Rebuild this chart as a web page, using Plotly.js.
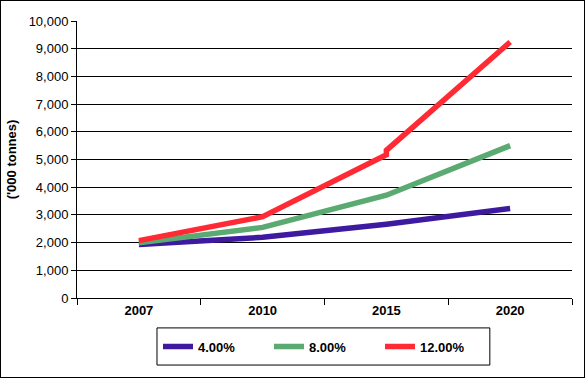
<!DOCTYPE html>
<html>
<head>
<meta charset="utf-8">
<script src="https://cdn.plot.ly/plotly-3.0.1.min.js"></script>
<style>
html,body{margin:0;padding:0;background:#fff;}
#chart{width:583px;height:376px;border:1px solid #000;}
</style>
</head>
<body>
<div id="chart"></div>
<script>
const years = ['2007', '2010', '2015', '2020'];
const seriesNames = ['4.00%', '8.00%', '12.00%'];
const growth4 = [1930, 2190, 2660, 3230];
const growth8 = [1990, 2550, 3710, 5500];
// the 12% line shows a small step at 2015 in the original
const years12 = ['2007', '2010', '2015', '2015', '2020'];
const growth12 = [2070, 2935, 5170, 5330, 9240];
const colors = ['#3d1aa0', '#5aaa72', '#ff2a33'];

const font = 'Arial, "Liberation Sans", sans-serif';
const traces = [
  {x: years, y: growth4, name: seriesNames[0]},
  {x: years, y: growth8, name: seriesNames[1]},
  {x: years12, y: growth12, name: seriesNames[2]}
].map((t, i) => Object.assign(t, {
  type: 'scatter', mode: 'lines',
  line: {color: colors[i], width: 5.5},
  hoverinfo: 'skip'
}));

const layout = {
  width: 583, height: 376,
  margin: {l: 76, r: 12, t: 20, b: 79},
  paper_bgcolor: '#fff', plot_bgcolor: '#fff',
  showlegend: true,
  font: {family: font, color: '#000', size: 13},
  xaxis: {
    type: 'category', categoryorder: 'array', categoryarray: years,
    range: [-0.5, 3.5],
    showline: true, linecolor: '#000', linewidth: 1,
    ticks: 'outside', tickson: 'boundaries', ticklen: 6, tickcolor: '#000',
    showgrid: false, zeroline: false,
    tickfont: {family: font, size: 13, weight: 'bold'}
  },
  yaxis: {
    range: [0, 10000], dtick: 1000, tickformat: ',d',
    showline: true, linecolor: '#000', linewidth: 1,
    ticks: 'outside', ticklen: 5, tickcolor: '#000',
    showgrid: true, gridcolor: '#000', gridwidth: 1,
    zeroline: false,
    tickfont: {family: font, size: 13},
    title: {text: "('000 tonnes)", font: {family: font, size: 13, weight: 'bold'}, standoff: 9}
  },
  legend: {
    orientation: 'h', x: 0.5, xanchor: 'center', y: -0.175, yanchor: 'middle',
    borderwidth: 0, bgcolor: 'rgba(0,0,0,0)',
    font: {family: font, size: 13, weight: 'bold'},
    entrywidth: 66, tracegroupgap: 0
  },
  shapes: [{
    type: 'rect', xref: 'paper', yref: 'paper',
    x0: 0.1616, x1: 0.834, y0: -0.242, y1: -0.108,
    line: {color: '#000', width: 1}, fillcolor: 'rgba(0,0,0,0)'
  }]
};

Plotly.newPlot('chart', traces, layout, {displayModeBar: false, staticPlot: true});
</script>
</body>
</html>
